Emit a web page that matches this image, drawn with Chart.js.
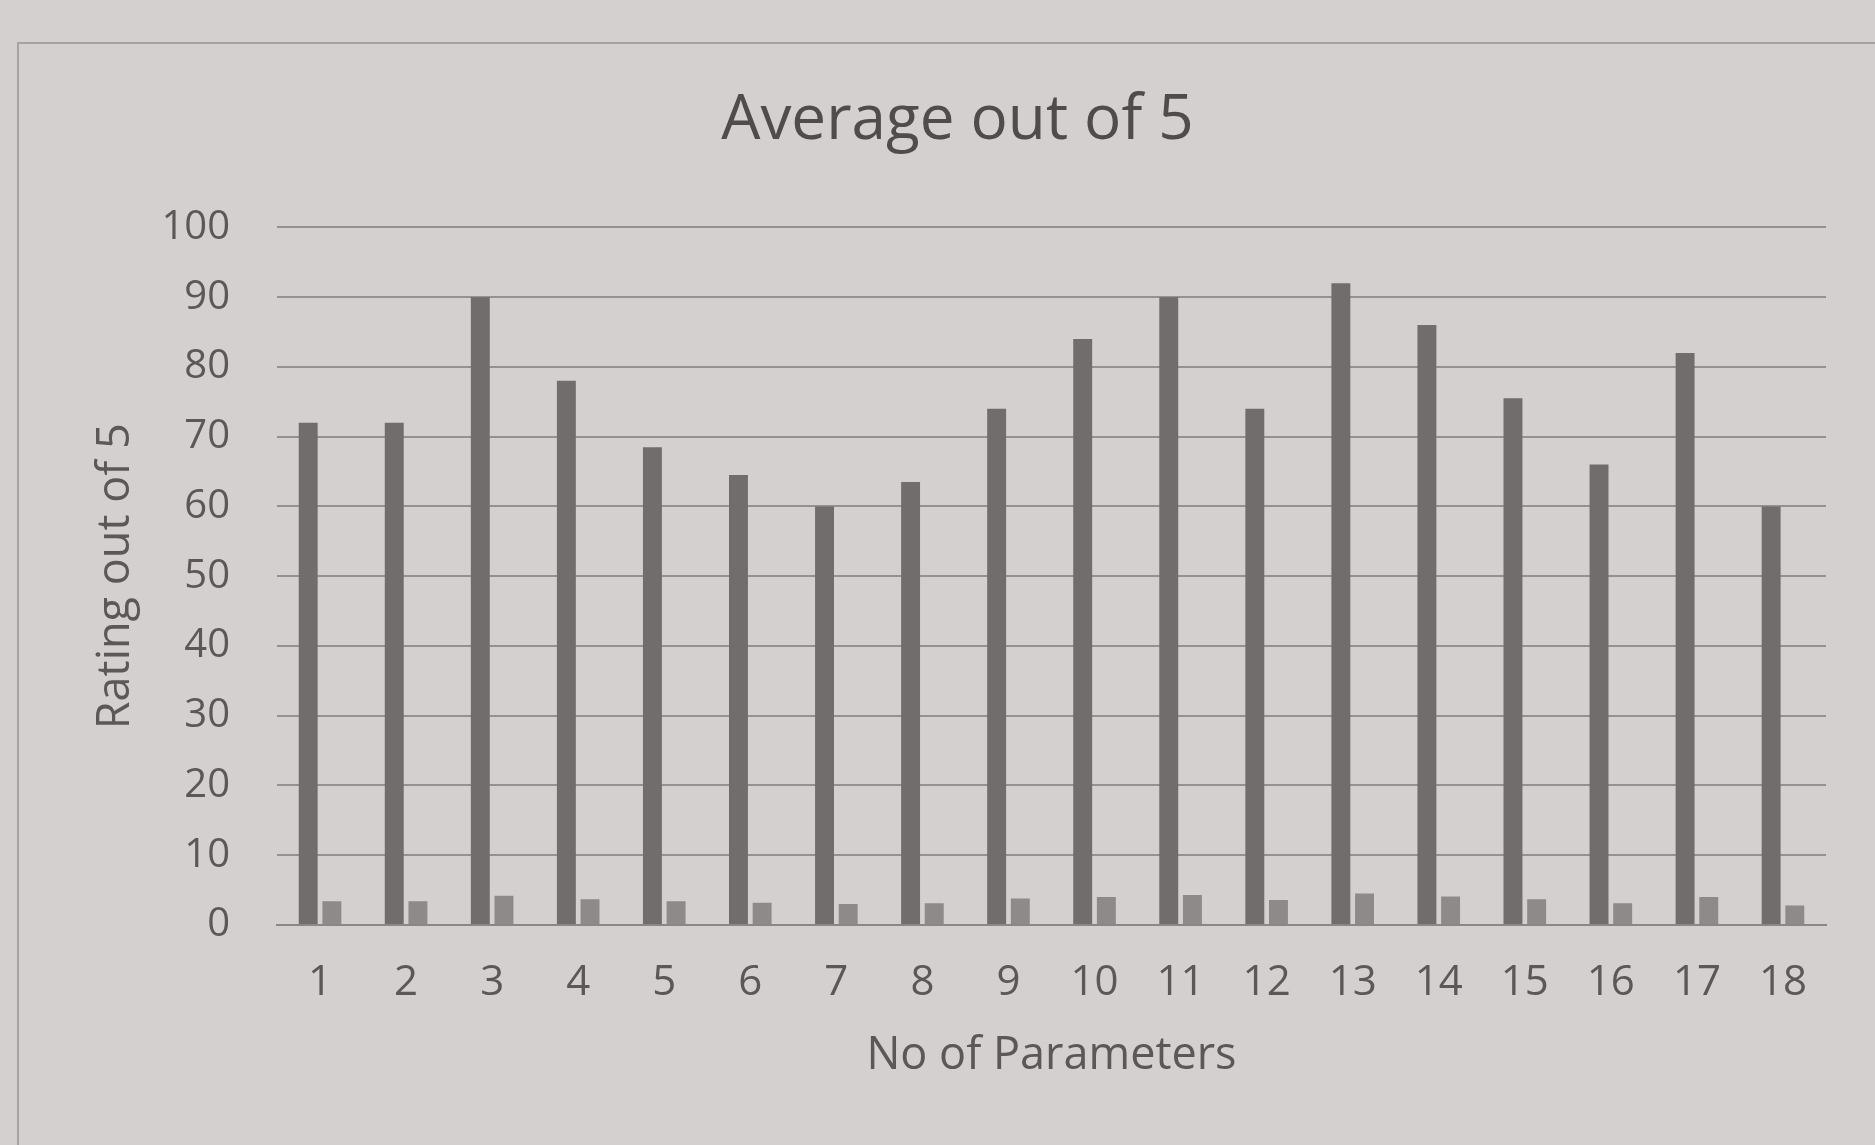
<!DOCTYPE html>
<html>
<head>
<meta charset="utf-8">
<script src="https://cdn.jsdelivr.net/npm/chart.js@4"></script>
<style>
  html, body { margin: 0; padding: 0; background: #d3d0cf; }
  #wrap { position: relative; width: 1875px; height: 1145px; }
  #frame { position: absolute; left: 17px; top: 42px; right: -10px; bottom: -10px;
           border-left: 2px solid #a5a2a1; border-top: 2px solid #a5a2a1; }
  canvas { position: absolute; left: 0; top: 0; }
</style>
</head>
<body>
<div id="wrap">
  <div id="frame"></div>
  <canvas id="chart" width="1875" height="1145"></canvas>
</div>
<script>
// Categories (parameter number)
const parameters = ['1', '2', '3', '4', '5', '6', '7', '8', '9', '10', '11', '12', '13', '14', '15', '16', '17', '18'];

// Tall bars - rating out of 100
const ratingValues = [72, 72, 90, 78, 68.5, 64.5, 60, 63.5, 74, 84, 90, 74, 92, 86, 75.5, 66, 82, 60];

// Short bars - average out of 5
const averageValues = [3.4, 3.4, 4.2, 3.7, 3.4, 3.2, 3.0, 3.1, 3.8, 4.0, 4.3, 3.6, 4.5, 4.1, 3.7, 3.1, 4.0, 2.8];

const textColor = '#5b5857';
const gridColor = '#959190';
const fontFamily = '"Open Sans", "Noto Sans", sans-serif';

const config = {
  type: 'bar',
  data: {
    labels: parameters,
    datasets: [
      {
        label: 'Rating',
        data: ratingValues,
        backgroundColor: '#716d6c',
        barPercentage: 0.8,
        categoryPercentage: 0.55
      },
      {
        label: 'Average',
        data: averageValues,
        backgroundColor: '#8e8a89',
        barPercentage: 0.8,
        categoryPercentage: 0.55
      }
    ]
  },
  options: {
    responsive: false,
    animation: false,
    layout: {
      padding: { left: 89, right: 49, top: 0, bottom: 62 }
    },
    plugins: {
      legend: { display: false },
      tooltip: { enabled: false },
      title: {
        display: true,
        text: 'Average out of 5',
        color: '#4f4c4b',
        font: { family: fontFamily, size: 62, weight: 'normal' },
        padding: { top: 84, bottom: 69 }
      }
    },
    scales: {
      x: {
        grid: { display: false, drawTicks: false },
        border: { display: true, color: '#8a8786', width: 2 },
        ticks: {
          color: textColor,
          font: { family: fontFamily, size: 42 },
          padding: 33
        },
        title: {
          display: true,
          text: 'No of Parameters',
          color: textColor,
          font: { family: fontFamily, size: 45 },
          padding: 0
        },
        // fixed axis height so plot bottom matches the reference
        afterFit: (scale) => { scale.height = 158; }
      },
      y: {
        min: 0,
        max: 100,
        grid: { color: gridColor, lineWidth: 2, drawTicks: false },
        border: { display: false },
        ticks: {
          stepSize: 10,
          color: textColor,
          font: { family: fontFamily, size: 40 },
          padding: 47
        },
        title: {
          display: true,
          text: 'Rating out of 5',
          color: textColor,
          font: { family: fontFamily, size: 45 },
          padding: 0
        },
        afterFit: (scale) => { scale.width = 188; }
      }
    }
  }
};

const chart = new Chart(document.getElementById('chart'), config);
</script>
</body>
</html>
